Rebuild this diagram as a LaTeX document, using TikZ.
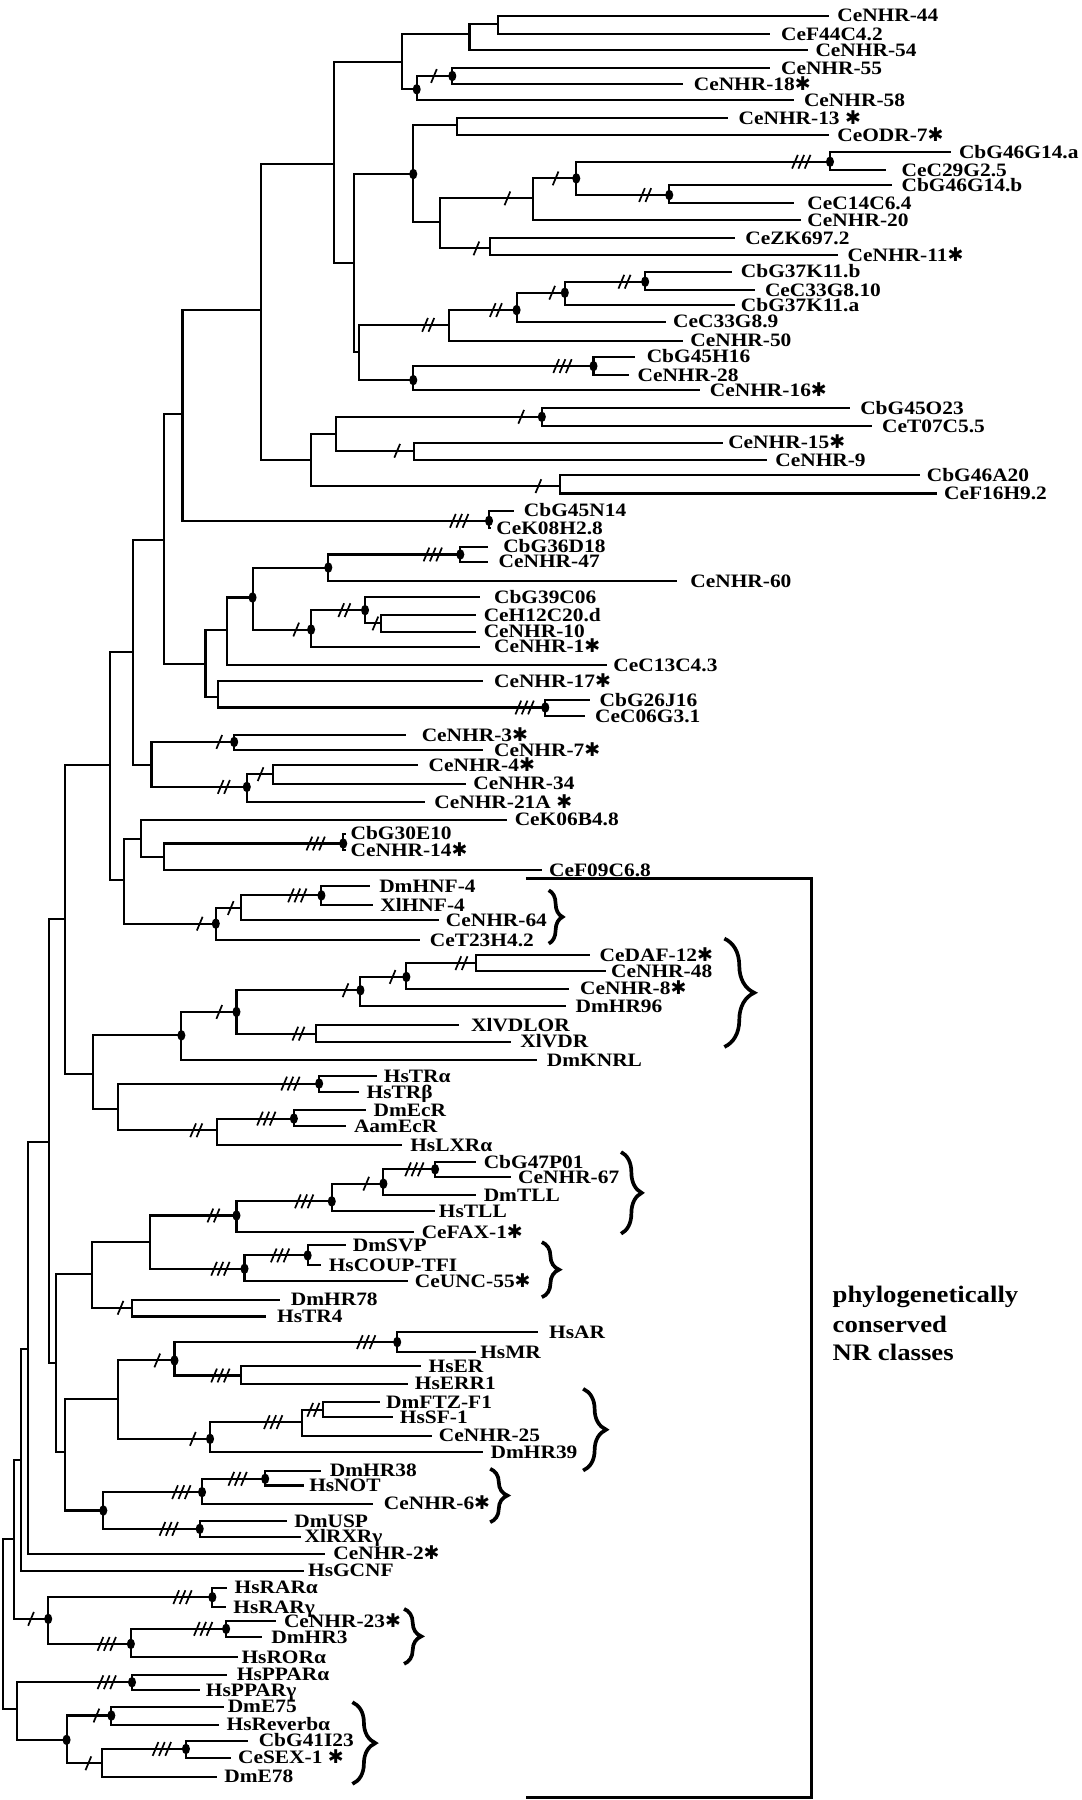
\documentclass[tikz,border=0pt]{standalone}
\usepackage{fontspec}
\usetikzlibrary{decorations.pathreplacing}
\newfontfamily\labf{Liberation Serif}[FakeStretch=1.13]
\newfontfamily\djv{DejaVu Sans}
\newcommand\stA{{\djv ✱}}
\newcommand\tIN[4]{\coordinate (#1) at (#3,#4); \draw[br] (#2) |- (#1);}
\newcommand\tID[4]{\tIN{#1}{#2}{#3}{#4}\fill (#1) ellipse [x radius=1.75pt, y radius=2.3pt];}
\newcommand\tLF[6]{\coordinate (#1) at (#3,#4); \draw[br] (#2) |- (#1); \node[lab] (#1t) at ({#5},{#4+5.3}) {#6};}
\newcommand\tSL[3]{\foreach \k in {1,...,#3}{\draw[sl] ({#1+(\k-(#3+1)/2)*5.5-2.5},{#2+6}) -- ++(5,-12);}}
\begin{document}
\begin{tikzpicture}[x=0.5pt,y=-0.5pt,
  br/.style={line width=0.9pt},
  sl/.style={line width=0.75pt},
  lab/.style={anchor=base west, inner sep=0pt, font={\labf\bfseries\fontsize{8.25pt}{9pt}\selectfont}},
  clab/.style={anchor=base west, inner sep=0pt, font={\labf\bfseries\fontsize{10.3pt}{12pt}\selectfont}},
  bk/.style={line width=1.5pt},
  brc/.style={line width=1.6pt, decorate}]
\fill[white] (0,0) rectangle (942,1568);
\useasboundingbox (0,0) rectangle (942,1568);
\coordinate (root) at (3,1414.5);
\tIN{n98}{root}{12}{1340.5}
\tIN{n92}{n98}{18}{1271.5}
\tIN{n91}{n92}{24}{1174.9}
\tIN{n76}{n91}{43}{994.8}
\tIN{n52}{n76}{57}{800.2}
\tIN{n46}{n52}{96}{666.6}
\tIN{n32}{n46}{116}{567.9}
\tIN{n31}{n32}{142.5}{470}
\tIN{n29}{n31}{159}{360.8}
\tIN{n23}{n29}{227}{270.1}
\tIN{n6}{n23}{291}{142.9}
\tIN{n3}{n6}{350}{53.7}
\tIN{n2}{n3}{409}{29.9}
\tIN{n1}{n2}{434}{21.2}
\tLF{l1}{n1}{722}{13.7}{729}{CeNHR-44}
\tLF{l2}{n1}{671}{29.6}{680}{CeF44C4.2}
\tLF{l3}{n2}{704}{43.6}{710}{CeNHR-54}
\tID{n4}{n3}{363}{77.8}
\tID{n5}{n4}{394}{66.2} \tSL{378}{66.2}{1}
\tLF{l4}{n5}{671}{59.5}{680}{CeNHR-55}
\tLF{l5}{n5}{595}{73.2}{604}{CeNHR-18\stA}
\tLF{l6}{n4}{692}{87.1}{700}{CeNHR-58}
\tIN{n7}{n6}{308}{229.5}
\tID{n9}{n7}{360}{151.6}
\tIN{n16}{n9}{398}{108.9}
\tLF{l7}{n16}{634}{103.1}{643}{CeNHR-13\ \stA}
\tLF{l8}{n16}{722}{117.6}{729}{CeODR-7\stA}
\tIN{n17}{n9}{383}{193.2}
\tIN{n18}{n17}{464}{172.8} \tSL{442}{172.8}{1}
\tID{n20}{n18}{502}{155.4} \tSL{484}{155.4}{1}
\tID{n21}{n20}{723}{140.9} \tSL{698}{140.9}{3}
\tLF{l9}{n21}{828}{132.5}{835}{CbG46G14.a}
\tLF{l10}{n21}{772}{148.1}{785}{CeC29G2.5}
\tID{n22}{n20}{583}{169.9} \tSL{562}{169.9}{2}
\tLF{l11}{n22}{777}{161.2}{785}{CbG46G14.b}
\tLF{l12}{n22}{692}{177.1}{703}{CeC14C6.4}
\tLF{l13}{n18}{698}{191.7}{703}{CeNHR-20}
\tIN{n19}{n17}{427}{216.4} \tSL{415}{216.4}{1}
\tLF{l14}{n19}{640}{207.7}{649}{CeZK697.2}
\tLF{l15}{n19}{730}{222.3}{738}{CeNHR-11\stA}
\tIN{n8}{n7}{313}{306.5}
\tIN{n10}{n8}{391}{283} \tSL{373}{283}{2}
\tID{n13}{n10}{450}{270.1} \tSL{432}{270.1}{2}
\tID{n14}{n13}{492}{255} \tSL{481}{255}{1}
\tID{n15}{n14}{562}{245.4} \tSL{544}{245.4}{2}
\tLF{l16}{n15}{638}{236.7}{645}{CbG37K11.b}
\tLF{l17}{n15}{658}{252.7}{666}{CeC33G8.10}
\tLF{l18}{n14}{640}{265.8}{645}{CbG37K11.a}
\tLF{l19}{n13}{580}{280.3}{586}{CeC33G8.9}
\tLF{l20}{n10}{595}{296.9}{601}{CeNHR-50}
\tID{n11}{n8}{360}{331.1}
\tID{n12}{n11}{517}{318.9} \tSL{490}{318.9}{3}
\tLF{l21}{n12}{553}{310.8}{563}{CbG45H16}
\tLF{l22}{n12}{548}{326.8}{555}{CeNHR-28}
\tLF{l23}{n11}{610}{339.9}{618}{CeNHR-16\stA}
\tIN{n24}{n23}{271}{400.8}
\tIN{n25}{n24}{293}{378}
\tID{n27}{n25}{472}{363.1} \tSL{454}{363.1}{1}
\tLF{l24}{n27}{740}{355.8}{749}{CbG45O23}
\tLF{l25}{n27}{760}{371.2}{768}{CeT07C5.5}
\tIN{n28}{n25}{361}{392.7} \tSL{346}{392.7}{1}
\tLF{l26}{n28}{630}{385.7}{634}{CeNHR-15\stA}
\tLF{l27}{n28}{668}{400.8}{675}{CeNHR-9}
\tIN{n26}{n24}{488}{423.5} \tSL{469}{423.5}{1}
\tLF{l28}{n26}{801}{413.9}{807}{CbG46A20}
\tLF{l29}{n26}{816}{429.9}{822}{CeF16H9.2}
\tID{n30}{n29}{426}{453.7} \tSL{400}{453.7}{3}
\tLF{l30}{n30}{448}{445}{456}{CbG45N14}
\tLF{l31}{n30}{428}{460}{432}{CeK08H2.8}
\tIN{n33}{n31}{179}{578.6}
\tIN{n34}{n33}{198}{548.4}
\tID{n36}{n34}{220}{520.5}
\tID{n37}{n36}{286}{494.4}
\tID{n39}{n37}{401}{483} \tSL{377}{483}{3}
\tLF{l32}{n39}{425}{476.3}{438}{CbG36D18}
\tLF{l33}{n39}{425}{489.3}{434}{CeNHR-47}
\tLF{l34}{n37}{590}{506.3}{601}{CeNHR-60}
\tID{n38}{n36}{271}{548.4} \tSL{258}{548.4}{1}
\tID{n40}{n38}{318}{531.5} \tSL{300}{531.5}{2}
\tLF{l35}{n40}{418}{520}{430}{CbG39C06}
\tIN{n41}{n40}{332}{543.1} \tSL{327}{543.1}{1}
\tLF{l36}{n41}{415}{535.9}{421}{CeH12C20.d}
\tLF{l37}{n41}{415}{550.4}{421}{CeNHR-10}
\tLF{l38}{n38}{418}{563.5}{430}{CeNHR-1\stA}
\tLF{l39}{n34}{529}{579.5}{534}{CeC13C4.3}
\tIN{n35}{n33}{190}{607.1}
\tLF{l40}{n35}{421}{593.4}{430}{CeNHR-17\stA}
\tID{n42}{n35}{475}{616.3} \tSL{457}{616.3}{3}
\tLF{l41}{n42}{514}{609.9}{522}{CbG26J16}
\tLF{l42}{n42}{510}{623.8}{518}{CeC06G3.1}
\tIN{n43}{n32}{132}{666.6}
\tID{n44}{n43}{204}{646.3} \tSL{191}{646.3}{1}
\tLF{l43}{n44}{354}{640.5}{367}{CeNHR-3\stA}
\tLF{l44}{n44}{421}{653.5}{430}{CeNHR-7\stA}
\tID{n45}{n43}{215}{685.5} \tSL{195}{685.5}{2}
\tIN{n47}{n45}{238}{674.4} \tSL{227}{674.4}{1}
\tLF{l45}{n47}{364}{666.6}{373}{CeNHR-4\stA}
\tLF{l46}{n47}{406}{682.6}{412}{CeNHR-34}
\tLF{l47}{n45}{370}{698.6}{378}{CeNHR-21A\ \stA}
\tIN{n51}{n46}{108}{766.8}
\tIN{n48}{n51}{123}{730.5}
\tLF{l48}{n48}{442}{713.9}{448}{CeK06B4.8}
\tIN{n50}{n48}{142.5}{746.5}
\tID{n49}{n50}{299}{734.8} \tSL{275}{734.8}{3}
\tLF{l49}{n49}{301}{726.1}{305}{CbG30E10}
\tLF{l50}{n49}{301}{740.6}{305}{CeNHR-14\stA}
\tLF{l51}{n50}{472}{758.1}{478}{CeF09C6.8}
\tID{n54}{n51}{188}{804.6} \tSL{174}{804.6}{1}
\tIN{n58}{n54}{210}{791} \tSL{201}{791}{1}
\tID{n57}{n58}{280}{780} \tSL{259}{780}{3}
\tLF{l52}{n57}{322}{772}{330}{DmHNF-4}
\tLF{l53}{n57}{325}{788.6}{331}{XlHNF-4}
\tLF{l54}{n58}{382}{801.6}{388}{CeNHR-64}
\tLF{l55}{n54}{366}{819.1}{374}{CeT23H4.2}
\tIN{n53}{n52}{81}{935.3}
\tID{n55}{n53}{158}{901.9}
\tID{n62}{n55}{206}{881.5} \tSL{191}{881.5}{1}
\tID{n61}{n62}{314}{862.6} \tSL{301}{862.6}{1}
\tID{n60}{n61}{354}{851} \tSL{342}{851}{1}
\tIN{n59}{n60}{415}{839} \tSL{402}{839}{2}
\tLF{l56}{n59}{514}{832.1}{522}{CeDAF-12\stA}
\tLF{l57}{n59}{528}{846.1}{532}{CeNHR-48}
\tLF{l58}{n60}{496}{861.2}{505}{CeNHR-8\stA}
\tLF{l59}{n61}{493}{876.6}{501}{DmHR96}
\tIN{n63}{n62}{275}{900.4} \tSL{260}{900.4}{2}
\tLF{l60}{n63}{400}{893.1}{410}{XlVDLOR}
\tLF{l61}{n63}{445}{907.6}{453}{XlVDR}
\tLF{l62}{n55}{468}{923.7}{476}{DmKNRL}
\tIN{n56}{n53}{103}{965.8}
\tID{n64}{n56}{278}{943.9} \tSL{253}{943.9}{3}
\tLF{l63}{n64}{328}{937.6}{334}{HsTRα}
\tLF{l64}{n64}{313}{951.2}{319}{HsTRβ}
\tIN{n66}{n56}{189}{984.6} \tSL{171}{984.6}{2}
\tID{n65}{n66}{256}{974.4} \tSL{232}{974.4}{3}
\tLF{l65}{n65}{319}{967.2}{325}{DmEcR}
\tLF{l66}{n65}{301}{981.1}{308}{AamEcR}
\tLF{l67}{n66}{350}{997.7}{357}{HsLXRα}
\tIN{n90}{n76}{49}{1187.3}
\tIN{n75}{n90}{80}{1109.6}
\tIN{n73}{n75}{131}{1082}
\tID{n70}{n73}{206}{1058.8} \tSL{186}{1058.8}{2}
\tID{n69}{n70}{289}{1046.5} \tSL{265}{1046.5}{3}
\tID{n68}{n69}{334}{1031.1} \tSL{319}{1031.1}{1}
\tID{n67}{n68}{379}{1018.6} \tSL{361}{1018.6}{3}
\tLF{l68}{n67}{415}{1012.2}{421}{CbG47P01}
\tLF{l69}{n67}{445}{1025.3}{451}{CeNHR-67}
\tLF{l70}{n68}{415}{1041.2}{421}{DmTLL}
\tLF{l71}{n69}{379}{1055}{382}{HsTLL}
\tLF{l72}{n70}{361}{1073.3}{367}{CeFAX-1\stA}
\tID{n72}{n73}{213}{1105.2} \tSL{192}{1105.2}{3}
\tID{n71}{n72}{268}{1093.6} \tSL{244}{1093.6}{3}
\tLF{l73}{n71}{301}{1084.9}{307}{DmSVP}
\tLF{l74}{n71}{280}{1102.3}{286}{HsCOUP-TFI}
\tLF{l75}{n72}{355}{1116}{361}{CeUNC-55\stA}
\tIN{n74}{n75}{115}{1139.2} \tSL{105}{1139.2}{1}
\tLF{l76}{n74}{244}{1132.3}{253}{DmHR78}
\tLF{l77}{n74}{232}{1146.8}{241}{HsTR4}
\tIN{n89}{n90}{57}{1265}
\tIN{n84}{n89}{103}{1218.5}
\tID{n80}{n84}{152}{1185.1} \tSL{137}{1185.1}{1}
\tID{n78}{n80}{346}{1169.1} \tSL{319}{1169.1}{3}
\tLF{l78}{n78}{469}{1160.4}{478}{HsAR}
\tLF{l79}{n78}{415}{1177.9}{418}{HsMR}
\tIN{n79}{n80}{210}{1198.2} \tSL{192}{1198.2}{3}
\tLF{l80}{n79}{367}{1190.3}{373}{HsER}
\tLF{l81}{n79}{355}{1205.4}{361}{HsERR1}
\tID{n83}{n84}{183}{1253.4} \tSL{168}{1253.4}{1}
\tIN{n82}{n83}{263}{1238.8} \tSL{238}{1238.8}{3}
\tIN{n81}{n82}{281}{1228.1} \tSL{273}{1228.1}{2}
\tLF{l82}{n81}{331}{1221.4}{336}{DmFTZ-F1}
\tLF{l83}{n81}{342}{1234.5}{348}{HsSF-1}
\tLF{l84}{n82}{376}{1250.5}{382}{CeNHR-25}
\tLF{l85}{n83}{421}{1265}{427}{DmHR39}
\tID{n88}{n89}{90}{1315.8}
\tID{n86}{n88}{176}{1299.8} \tSL{158}{1299.8}{3}
\tID{n85}{n86}{231}{1288.2} \tSL{207}{1288.2}{3}
\tLF{l86}{n85}{280}{1281}{287}{DmHR38}
\tLF{l87}{n85}{265}{1294}{269}{HsNOT}
\tLF{l88}{n86}{325}{1310}{334}{CeNHR-6\stA}
\tID{n87}{n88}{174}{1331.8} \tSL{147}{1331.8}{3}
\tLF{l89}{n87}{250}{1325.1}{256}{DmUSP}
\tLF{l90}{n87}{262}{1338.5}{265}{XlRXRγ}
\tLF{l91}{n91}{283}{1353.6}{290}{CeNHR-2\stA}
\tLF{l92}{n92}{265}{1368.1}{268}{HsGCNF}
\tID{n96}{n98}{42}{1410.2} \tSL{27}{1410.2}{1}
\tID{n93}{n96}{185}{1391.3} \tSL{159}{1391.3}{3}
\tLF{l93}{n93}{198}{1383.2}{204}{HsRARα}
\tLF{l94}{n93}{197}{1400}{203}{HsRARγ}
\tID{n95}{n96}{114}{1432} \tSL{93}{1432}{3}
\tID{n94}{n95}{197}{1418.9} \tSL{177}{1418.9}{3}
\tLF{l95}{n94}{240}{1412.2}{247}{CeNHR-23\stA}
\tLF{l96}{n94}{228}{1426.2}{236}{DmHR3}
\tLF{l97}{n95}{207}{1443.6}{210}{HsRORα}
\tIN{n97}{root}{15}{1488.6}
\tID{n99}{n97}{115}{1465.4} \tSL{93}{1465.4}{3}
\tLF{l98}{n99}{198}{1458.7}{206}{HsPPARα}
\tLF{l99}{n99}{174}{1472.1}{179}{HsPPARγ}
\tID{n103}{n97}{58}{1515.6}
\tID{n100}{n103}{97}{1494.4} \tSL{84}{1494.4}{1}
\tLF{l100}{n100}{195}{1486.6}{198}{DmE75}
\tLF{l101}{n100}{191}{1502.3}{197}{HsReverbα}
\tIN{n102}{n103}{89}{1536} \tSL{77}{1536}{1}
\tID{n101}{n102}{162}{1523.5} \tSL{141}{1523.5}{3}
\tLF{l102}{n101}{216}{1516.2}{225}{CbG41I23}
\tLF{l103}{n101}{201}{1531.3}{207}{CeSEX-1\ \stA}
\tLF{l104}{n102}{189}{1547.6}{195}{DmE78}
% big bracket
\coordinate (bk1) at (458,765.3);
\coordinate (bk2) at (707,765.3);
\coordinate (bk3) at (707,1565.6);
\coordinate (bk4) at (458,1565.6);
\draw[bk] (bk1) -- (bk2) -- (bk3) -- (bk4);
% braces
\draw[brc, decoration={brace, amplitude=6pt}] (478,775.5) -- (478,822);
\draw[brc, decoration={brace, amplitude=13pt}] (631,817.6) -- (631,912);
\draw[brc, decoration={brace, amplitude=9pt}] (541,1003.5) -- (541,1074.7);
\draw[brc, decoration={brace, amplitude=7.5pt}] (472,1082) -- (472,1130);
\draw[brc, decoration={brace, amplitude=10pt}] (508,1209.8) -- (508,1281);
\draw[brc, decoration={brace, amplitude=7.5pt}] (427,1279.5) -- (427,1326);
\draw[brc, decoration={brace, amplitude=7.5pt}] (352,1401.5) -- (352,1449.4);
\draw[brc, decoration={brace, amplitude=10pt}] (307,1482.8) -- (307,1554);
% class label
\node[clab] (c1) at (725,1134.3) {phylogenetically};
\node[clab] (c2) at (725,1160.4) {conserved};
\node[clab] (c3) at (725,1185.1) {NR classes};
\end{tikzpicture}
\end{document}
